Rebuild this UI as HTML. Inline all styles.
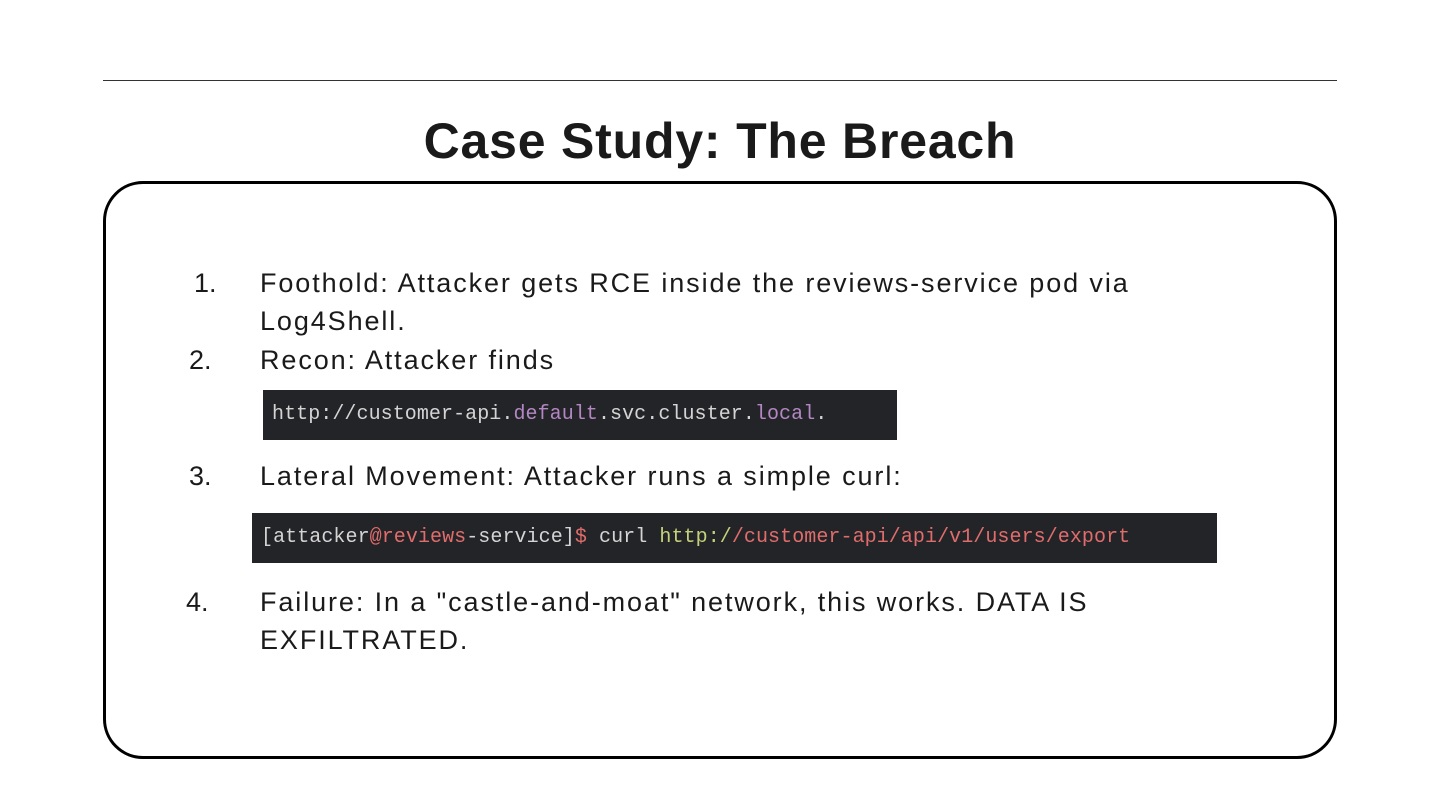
<!DOCTYPE html>
<html><head><meta charset="utf-8"><style>
body{margin:0;width:1440px;height:810px;background:#fff;position:relative;overflow:hidden;font-family:"Liberation Sans",sans-serif;color:#1a1a1a}
.abs{position:absolute;white-space:nowrap}
.rule{position:absolute;left:103px;top:80px;width:1234px;height:1px;background:#333}
.title{left:0;width:1440px;text-align:center;top:112px;font-size:50px;font-weight:bold;letter-spacing:0.8px}
.box{position:absolute;left:103px;top:181px;width:1228px;height:572px;border:3.5px solid #000;border-radius:40px}
.t{font-size:27px;letter-spacing:1.9px;line-height:38px}
.n{font-size:27px;line-height:38px}
.code{position:absolute;background:#232427;font-family:"Liberation Mono",monospace;font-size:20px;letter-spacing:0.07px;color:#d4d4d4;line-height:50px;white-space:nowrap}
.p{color:#b487c4}.r{color:#e06c6c}.g{color:#c5d17a}
</style></head><body>
<div class="rule"></div>
<div class="abs title">Case Study: The Breach</div>
<div class="box"></div>
<div class="abs n" style="left:194px;top:264px">1.</div>
<div class="abs t" style="left:260px;top:264px">Foothold: Attacker gets RCE inside the reviews-service pod via<br>Log4Shell.</div>
<div class="abs n" style="left:189px;top:341px">2.</div>
<div class="abs t" style="left:260px;top:341px">Recon: Attacker finds</div>
<div class="code" style="left:263px;top:390px;width:634px;height:50px"><span style="padding-left:9px">http://customer-api.<span class="p">default</span>.svc.cluster.<span class="p">local</span>.</span></div>
<div class="abs n" style="left:189px;top:457px">3.</div>
<div class="abs t" style="left:260px;top:457px">Lateral Movement: Attacker runs a simple curl:</div>
<div class="code" style="left:252px;top:513px;width:965px;height:50px"><span style="padding-left:9px">[attacker<span class="r">@reviews</span>-service]<span class="r">$</span> curl <span class="g">http:/</span><span class="r">/customer-api/api/v1/users/export</span></span></div>
<div class="abs n" style="left:186px;top:583px">4.</div>
<div class="abs t" style="left:260px;top:583px">Failure: In a "castle-and-moat" network, this works. DATA IS<br>EXFILTRATED.</div>
</body></html>
